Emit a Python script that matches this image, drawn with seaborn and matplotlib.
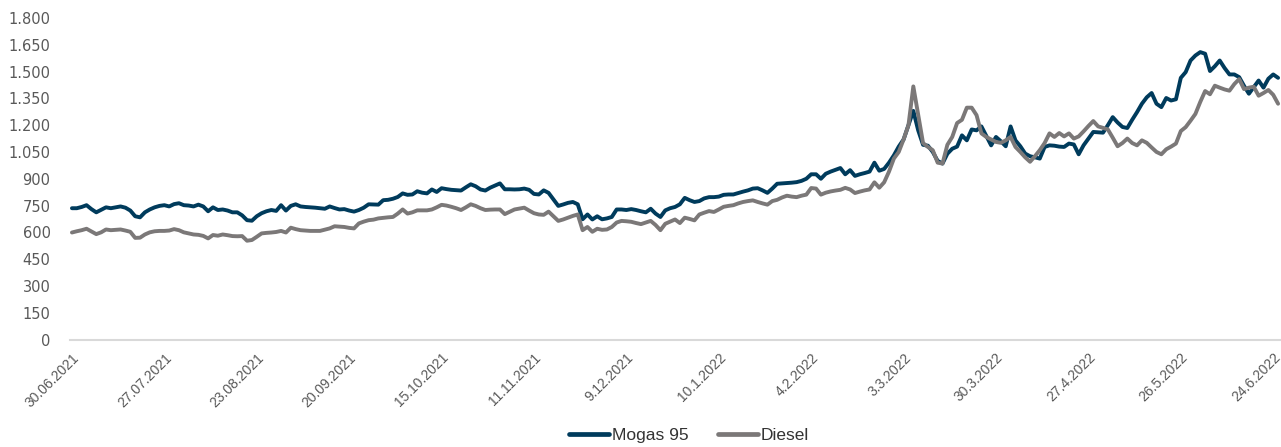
import matplotlib
matplotlib.use("Agg")
import matplotlib.pyplot as plt
import matplotlib.ticker as mticker
from matplotlib.lines import Line2D
import seaborn as sns
import pandas as pd
import numpy as np

mogas95 = [
    735,735,742,752,730,712,726,740,735,740,
    745,738,722,690,684,712,728,740,748,752,
    745,758,763,752,750,745,755,745,718,740,
    725,728,722,712,712,695,668,665,690,707,
    718,725,720,752,722,748,757,745,742,740,
    738,735,732,745,736,728,730,722,716,725,
    738,757,756,755,780,782,788,798,818,810,
    812,830,822,818,840,826,847,842,838,836,
    834,852,869,858,840,834,850,862,874,841,
    841,840,841,845,838,815,812,835,821,785,
    748,756,765,770,757,673,700,672,690,673,
    678,686,728,728,725,730,725,718,712,732,
    705,686,723,735,742,757,793,780,770,775,
    790,797,797,800,810,812,812,820,828,835,
    845,847,835,821,845,872,874,876,878,881,
    888,900,925,925,900,928,940,950,960,925,
    948,916,925,932,940,990,945,955,990,1031,
    1080,1120,1200,1280,1171,1090,1085,1050,1000,985,
    1040,1068,1080,1143,1115,1176,1171,1193,1140,1087,
    1134,1110,1082,1193,1115,1082,1041,1026,1020,1013,
    1078,1087,1085,1080,1078,1097,1092,1037,1087,1125,
    1162,1160,1158,1200,1245,1215,1190,1184,1230,1273,
    1320,1356,1380,1320,1301,1352,1338,1345,1465,1497,
    1562,1590,1609,1600,1503,1530,1562,1520,1484,1484,
    1469,1420,1376,1413,1450,1410,1460,1484,1465,
]

diesel = [
    599,606,612,620,605,590,600,616,612,614,
    616,610,603,569,570,588,600,606,608,608,
    610,618,612,600,594,588,586,580,566,585,
    581,588,584,579,578,579,553,557,575,594,
    597,599,602,608,599,626,618,612,610,608,
    608,608,615,622,634,632,630,625,622,650,
    660,668,671,678,681,684,686,705,728,705,
    712,723,723,723,728,740,754,750,743,735,
    725,740,757,748,735,725,727,728,728,702,
    715,728,733,738,722,707,700,698,716,690,
    664,672,682,692,700,612,630,603,620,614,
    616,630,655,664,662,659,652,646,655,664,
    641,612,648,660,672,652,682,675,667,700,
    710,719,714,728,743,748,752,762,770,775,
    779,770,762,755,775,782,795,805,800,797,
    805,811,848,845,811,822,829,834,838,849,
    840,820,828,835,840,880,850,880,940,1013,
    1050,1120,1200,1417,1260,1100,1078,1060,990,985,
    1090,1134,1212,1230,1298,1298,1256,1154,1134,1120,
    1106,1101,1115,1134,1078,1050,1020,995,1026,1060,
    1100,1154,1134,1156,1137,1154,1125,1137,1165,1195,
    1223,1193,1185,1176,1130,1082,1100,1125,1100,1087,
    1115,1101,1075,1050,1037,1065,1080,1097,1167,1189,
    1225,1263,1330,1391,1373,1421,1410,1400,1393,1430,
    1458,1402,1410,1415,1365,1380,1397,1370,1320,
]

date_labels = ["30.06.2021", "27.07.2021", "23.08.2021", "20.09.2021",
               "15.10.2021", "11.11.2021", "9.12.2021", "10.1.2022",
               "4.2.2022", "3.3.2022", "30.3.2022", "27.4.2022",
               "26.5.2022", "24.6.2022"]
label_step = 19
series_names = ["Mogas 95", "Diesel"]
colors = ["#003b5c", "#7b7878"]

n = len(mogas95)
df = pd.DataFrame({
    "idx": list(range(n)) * 2,
    "value": mogas95 + diesel,
    "series": [series_names[0]] * n + [series_names[1]] * len(diesel),
})

sns.set_theme(style="white")
plt.rcParams["font.family"] = ["Liberation Sans", "DejaVu Sans"]

fig = plt.figure(figsize=(12.81, 4.47), dpi=100)
ax = fig.add_axes([70 / 1281, (447 - 339.5) / 447, 1 - 70 / 1281, (339.5 - 18) / 447])

sns.lineplot(data=df, x="idx", y="value", hue="series", palette=colors,
             hue_order=series_names, linewidth=2.8, ax=ax, legend=False)

ax.set_xlim(-0.4, n - 0.4)
ax.set_ylim(0, 1800)
ax.set_yticks(np.arange(0, 1801, 150))
ax.yaxis.set_major_formatter(mticker.FuncFormatter(lambda v, p: f"{int(v):,}".replace(",", ".")))

ax.set_xticks([i * label_step for i in range(len(date_labels))])
ax.set_xticklabels(date_labels, rotation=45, ha="right", rotation_mode="anchor")
ax.set_xticks(range(n), minor=True)

for s in ["top", "right", "left"]:
    ax.spines[s].set_visible(False)
ax.spines["bottom"].set_color("#d9d9d9")
ax.spines["bottom"].set_linewidth(1.5)

ax.tick_params(axis="y", length=0, pad=14, labelsize=10.5, labelcolor="#595959")
ax.tick_params(axis="x", which="major", length=4, color="#d9d9d9", pad=4,
               labelsize=10, labelcolor="#595959")
ax.tick_params(axis="x", which="minor", length=4, color="#d9d9d9", width=0.8)
for lab in ax.get_yticklabels():
    lab.set_fontfamily("DejaVu Sans")
ax.set_xlabel("")
ax.set_ylabel("")
ax.grid(False)

handles = [Line2D([0], [0], color=c, lw=3.4) for c in colors]
fig.legend(handles, series_names, loc="center", bbox_to_anchor=(0.538, 0.026),
           ncol=2, frameon=False, fontsize=12.5, handlelength=2.3,
           handletextpad=0.15, columnspacing=1.7, labelcolor="#333333")

fig.savefig("out.png", dpi=100)
